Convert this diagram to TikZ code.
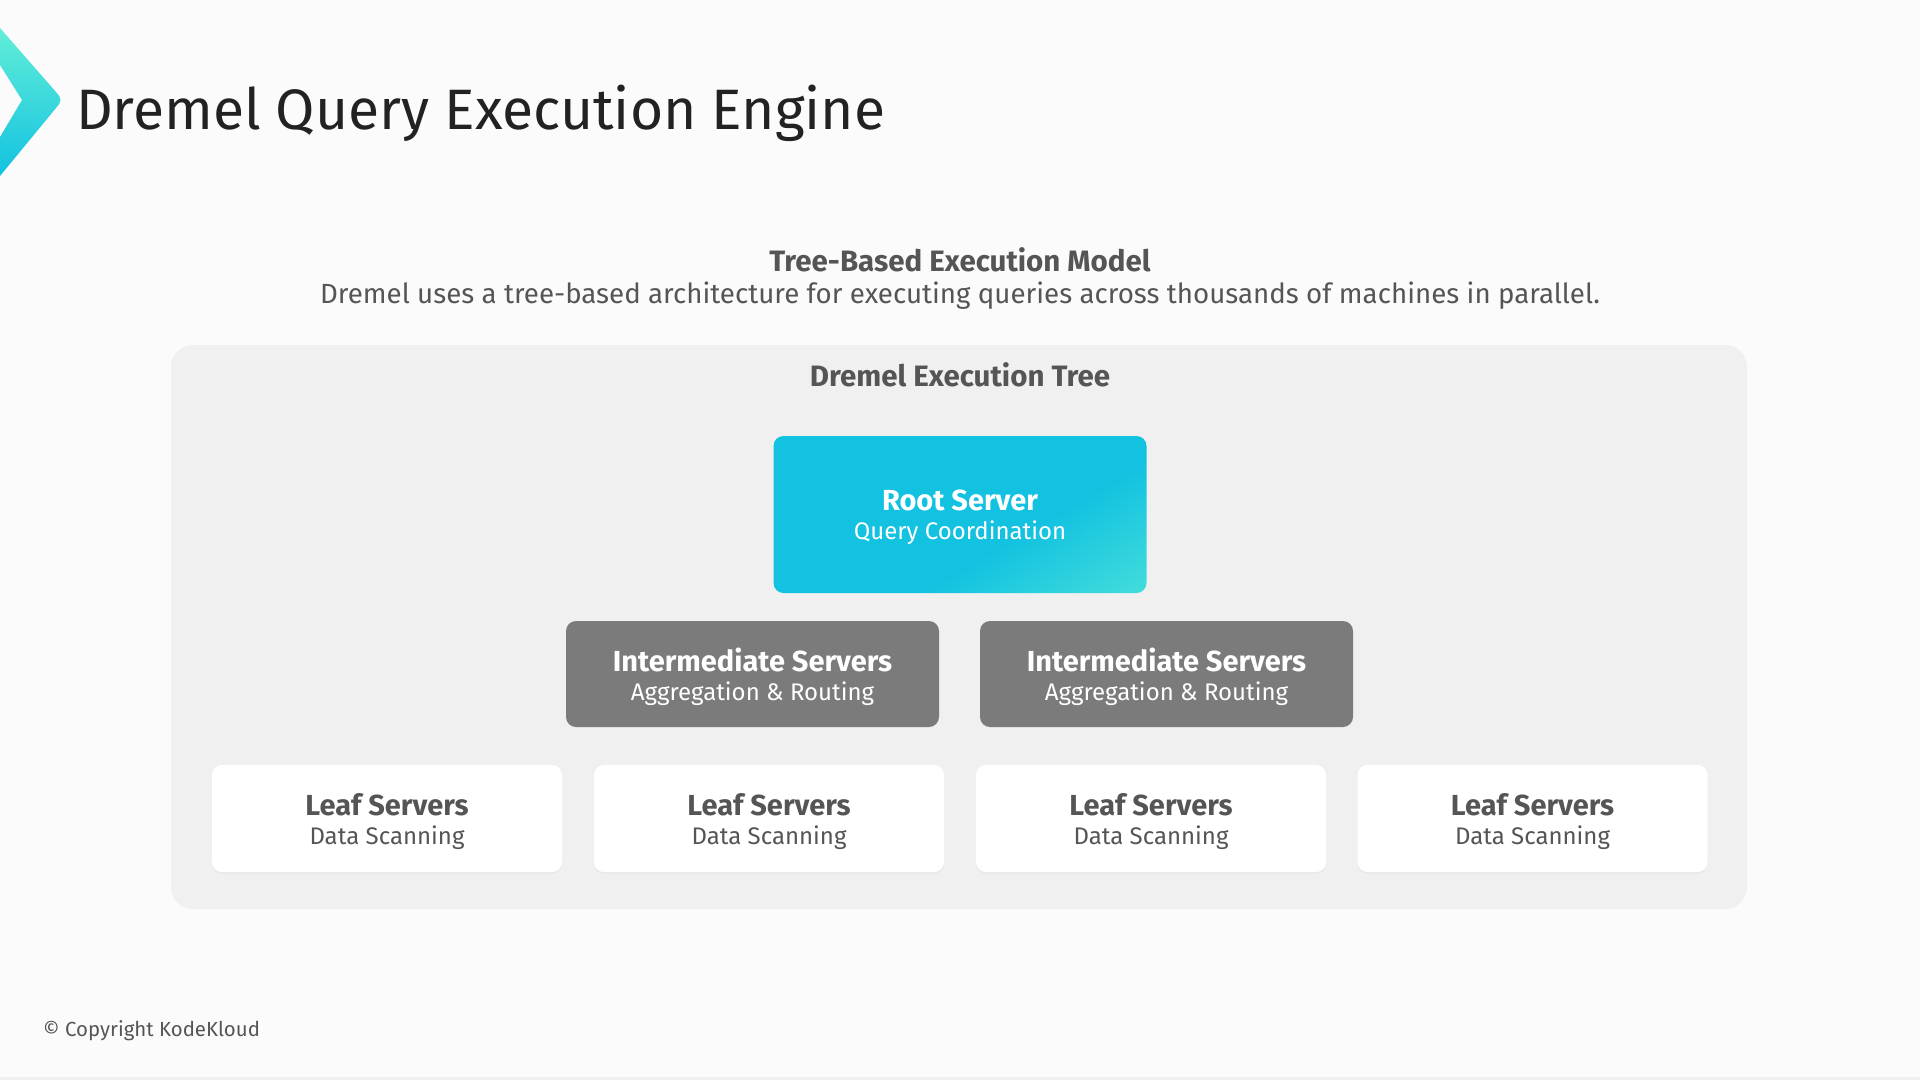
\documentclass[tikz,border=0pt]{standalone}
\usepackage{fontspec}
\setmainfont{Fira Sans}
\usetikzlibrary{shadows}
\definecolor{bg}{HTML}{FCFBFC}
\definecolor{panel}{HTML}{F0F0F0}
\definecolor{txt}{HTML}{555555}
\definecolor{ttl}{HTML}{222222}
\definecolor{midgray}{HTML}{7B7B7B}
\definecolor{cyanA}{HTML}{12C2E0}
\definecolor{cyanB}{HTML}{62EED8}
\pgfdeclarehorizontalshading{rootshade}{100bp}{color(0bp)=(cyanA); color(60bp)=(cyanA); color(100bp)=(cyanB)}
\tikzset{
  box/.style={rounded corners=10pt, minimum width=373pt, inner sep=0pt},
  boxtext/.style={inner sep=0pt, align=center, font=\fontsize{24}{29}\selectfont, yshift=-3pt},
  rootbox/.style={box, minimum height=157pt, shading=rootshade, shading angle=300},
  midbox/.style={box, minimum height=106pt, fill=midgray},
  leafbox/.style={box, minimum width=350pt, minimum height=107pt, fill=white,
     drop shadow={opacity=0.06, shadow xshift=0pt, shadow yshift=-2pt}}
}
\newcommand{\twoline}[2]{{\fontsize{29}{29}\selectfont\bfseries #1}\\#2}
\begin{document}
\begin{tikzpicture}[x=1pt,y=-1pt]
\useasboundingbox (0,0) rectangle (1920,1080);
\fill[bg] (0,0) rectangle (1920,1080);
\fill[black!6] (0,1077) rectangle (1920,1080);
% chevron
\shade[top color=cyanB, bottom color=cyanA]
  (0,28) -- (56,92) .. controls (62,99) and (62,101) .. (56,108) -- (0,176) -- (0,137) -- (22,100) -- (0,65) -- cycle;
\node[anchor=west, text=ttl, font=\fontsize{57}{62}\selectfont, inner sep=0pt] (title) at (76,113) {Dremel Query Execution Engine};
\node[text=txt, font=\fontsize{29.5}{32}\selectfont\bfseries, inner sep=0pt] (sub) at (960,260) {Tree-Based Execution Model};
\node[text=txt, font=\fontsize{27.7}{31}\selectfont, inner sep=0pt] (desc) at (960,296) {Dremel uses a tree-based architecture for executing queries across thousands of machines in parallel.};
\fill[panel, rounded corners=22pt] (171,345) rectangle (1747,909);
\node[text=txt, font=\fontsize{29.5}{32}\selectfont\bfseries, inner sep=0pt] (tree) at (960,375) {Dremel Execution Tree};
\node[rootbox, label={[boxtext, text=white]center:\twoline{Root Server}{Query Coordination}}] (root) at (960,514.5) {};
\node[midbox, label={[boxtext, text=white]center:\twoline{Intermediate Servers}{Aggregation \& Routing}}] (mid1) at (752.5,674) {};
\node[midbox, label={[boxtext, text=white]center:\twoline{Intermediate Servers}{Aggregation \& Routing}}] (mid2) at (1166.5,674) {};
\node[leafbox, label={[boxtext, text=txt]center:\twoline{Leaf Servers}{Data Scanning}}] (leaf1) at (387,818.5) {};
\node[leafbox, label={[boxtext, text=txt]center:\twoline{Leaf Servers}{Data Scanning}}] (leaf2) at (769,818.5) {};
\node[leafbox, label={[boxtext, text=txt]center:\twoline{Leaf Servers}{Data Scanning}}] (leaf3) at (1151,818.5) {};
\node[leafbox, label={[boxtext, text=txt]center:\twoline{Leaf Servers}{Data Scanning}}] (leaf4) at (1532.5,818.5) {};
\node[anchor=west, text=txt, font=\fontsize{20.4}{23}\selectfont, inner sep=0pt] (copy) at (43,1031) {© Copyright KodeKloud};
\end{tikzpicture}
\end{document}
